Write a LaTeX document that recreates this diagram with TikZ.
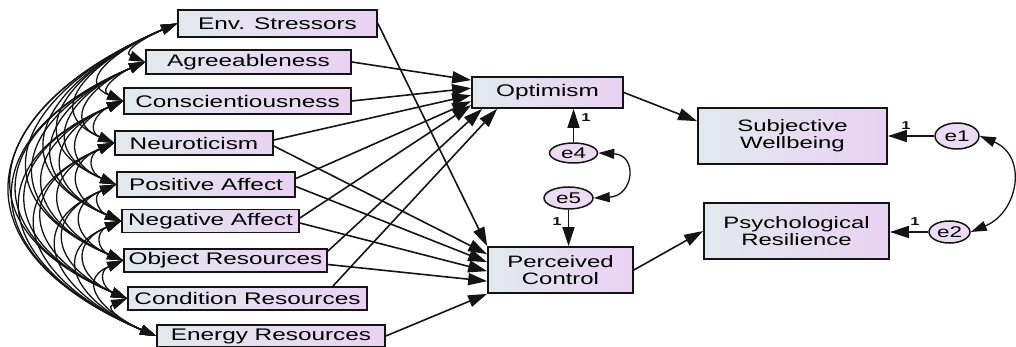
\documentclass[tikz,border=0pt]{standalone}
\usepackage{fontspec}
\setmainfont{Liberation Sans}[FakeStretch=1.45]
\usetikzlibrary{arrows.meta,shapes.geometric}
\definecolor{boxL}{RGB}{226,233,238}
\definecolor{boxR}{RGB}{233,210,243}
\definecolor{ellF}{RGB}{236,220,243}
\definecolor{edgec}{RGB}{20,20,20}
\begin{document}
\begin{tikzpicture}[x=1pt,y=-1pt,
  vbox/.style={draw=edgec, line width=1.7pt, left color=boxL, right color=boxR, inner sep=0pt, font=\fontsize{16.8}{17}\selectfont, align=center},
  err/.style={ellipse, draw=edgec, line width=1.5pt, fill=ellF, inner sep=0pt, font=\fontsize{15.5}{16}\selectfont},
  arr/.style={line width=1.6pt, draw=edgec, -{Triangle[length=19pt,width=12pt]}},
  cov/.style={line width=1.3pt, draw=edgec, {Triangle[length=16pt,width=10pt]}-{Triangle[length=16pt,width=10pt]}},
  one/.style={inner sep=0pt, text=edgec, font=\fontsize{11.5}{11.5}\selectfont\bfseries}
]
\useasboundingbox (0,0) rectangle (1016,347);

% exogenous variables
\node[vbox, minimum width=199pt, minimum height=27pt] (env) at (277.5,23.5) {Env. Stressors};
\node[vbox, minimum width=205pt, minimum height=24pt] (agr) at (248.5,62) {Agreeableness};
\node[vbox, minimum width=227pt, minimum height=26pt] (con) at (237.5,101) {Conscientiousness};
\node[vbox, minimum width=158pt, minimum height=24pt] (neu) at (194,143) {Neuroticism};
\node[vbox, minimum width=178pt, minimum height=25pt] (pa) at (206,184.5) {Positive Affect};
\node[vbox, minimum width=177pt, minimum height=23pt] (na) at (210.5,221) {Negative Affect};
\node[vbox, minimum width=203pt, minimum height=23pt] (obj) at (225.5,260.5) {Object Resources};
\node[vbox, minimum width=239pt, minimum height=23pt] (cond) at (247.5,298.5) {Condition Resources};
\node[vbox, minimum width=228pt, minimum height=22pt] (eng) at (271,336) {Energy Resources};

% endogenous variables
\node[vbox, minimum width=151pt, minimum height=31pt] (opt) at (547.5,92.5) {Optimism};
\node[vbox, minimum width=145pt, minimum height=46pt, font=\fontsize{16.5}{16.5}\selectfont] (pc) at (560.5,270) {Perceived\\Control};
\node[vbox, minimum width=189pt, minimum height=56pt, font=\fontsize{16.5}{17}\selectfont] (sw) at (792.5,136) {Subjective\\Wellbeing};
\node[vbox, minimum width=185pt, minimum height=56pt, font=\fontsize{16.5}{17}\selectfont] (pr) at (796.5,231) {Psychological\\Resilience};

% error terms
\node[err, minimum width=44pt, minimum height=26pt] (e1) at (957,136) {e1};
\node[err, minimum width=41pt, minimum height=22pt] (e2) at (949.5,232) {e2};
\node[err, minimum width=48pt, minimum height=20pt] (e4) at (573.5,153) {e4};
\node[err, minimum width=49pt, minimum height=22pt] (e5) at (568.5,198) {e5};

% paths to Optimism
\draw[arr] (agr.east) -- ([yshift=-4pt]opt.north west);
\draw[arr] (con.east) -- ([yshift=-12pt]opt.north west);
\draw[arr] ([yshift=3pt]neu.east) -- ([yshift=-19pt]opt.north west);
\draw[arr] ([yshift=6pt]pa.east) -- ([yshift=-25pt]opt.north west);
\draw[arr] ([yshift=3pt]na.east) -- ([yshift=-29pt]opt.north west);
\draw[arr] ([yshift=-3pt]obj.north east) -- ([xshift=11pt]opt.south west);
\draw[arr] ([xshift=-35pt]cond.north east) -- ([xshift=26pt]opt.south west);

% paths to Perceived Control
\draw[arr] (env.east) -- (pc.north west);
\draw[arr] ([yshift=-3pt]neu.east) -- ([yshift=-8pt]pc.north west);
\draw[arr] ([yshift=-2pt]pa.east) -- ([yshift=-16pt]pc.north west);
\draw[arr] ([yshift=-2pt]na.east) -- ([yshift=-25pt]pc.north west);
\draw[arr] ([yshift=-4pt]obj.east) -- ([yshift=-35pt]pc.north west);
\draw[arr] (eng.east) -- (pc.south west);

% outcomes
\draw[arr] (opt.east) -- ([yshift=-14pt]sw.north west);
\draw[arr] (pc.east) -- (pr.west);

% error paths
\draw[arr] (e4.north) -- (e4.north |- opt.south);
\draw[arr] (e5.south) -- (e5.south |- pc.north);
\draw[arr] (e1.west) -- (e1.west -| sw.east);
\draw[arr] (e2.west) -- (e2.west -| pr.east);
\node[one] (l4) at (586,118) {1};
\node[one] (l5) at (557,222) {1};
\node[one] (l1) at (906,126) {1};
\node[one] (l2) at (915,222) {1};

% error covariances
\draw[cov] (e4.east) .. controls +(40,2) and +(40,-2) .. (e5.east);
\draw[cov] (e1.east) .. controls +(48,20) and +(48,-20) .. (e2.east);

% covariances among exogenous variables
\foreach \a/\ya [count=\i] in {env/23.5,agr/62,con/101,neu/143,pa/184.5,na/221,obj/260.5,cond/298.5,eng/336}{
  \foreach \b/\yb [count=\j] in {env/23.5,agr/62,con/101,neu/143,pa/184.5,na/221,obj/260.5,cond/298.5,eng/336}{
    \ifnum\j>\i
      \draw[cov] (\a.west) .. controls +({-0.66*(\yb-\ya)},{0.28*(\yb-\ya)}) and +({-0.66*(\yb-\ya)},{-0.28*(\yb-\ya)}) .. (\b.west);
    \fi
  }
}
\end{tikzpicture}
\end{document}
